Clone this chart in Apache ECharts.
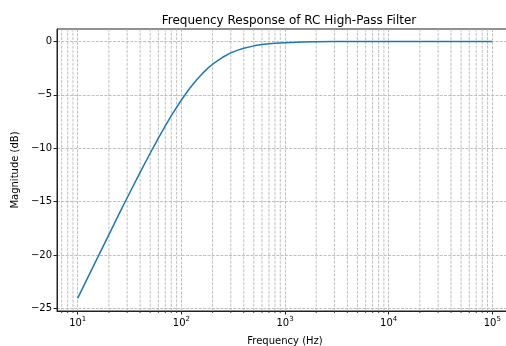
<!DOCTYPE html>
<html>
<head>
<meta charset="utf-8">
<script src="https://cdn.jsdelivr.net/npm/echarts@6/dist/echarts.min.js"></script>
<style>
	html, body { margin: 0; padding: 0; background: #fff; }
	#chart { width: 506px; height: 346px; }
</style>
</head>
<body>
<div id="chart"></div>
<script type="text/javascript">
	// frequency (Hz) and magnitude (dB)
	var freq = [10, 12, 15, 20, 25, 30, 40, 50, 60, 70, 80, 100, 120, 140, 160, 180, 200, 250, 300, 350, 400, 500, 600, 700, 800, 1000, 1500, 2000, 3000, 5000, 10000, 100000];
	var magDb = [-24.05, -22.47, -20.56, -18.09, -16.18, -14.64, -12.27, -10.47, -9.05, -7.90, -6.95, -5.48, -4.41, -3.61, -2.99, -2.50, -2.13, -1.48, -1.07, -0.81, -0.64, -0.41, -0.29, -0.21, -0.17, -0.11, -0.05, -0.03, -0.012, -0.004, -0.001, 0];
	// minor grid lines of the log axis
	var minorFreq = [7, 8, 9, 20, 30, 40, 50, 60, 70, 80, 90, 200, 300, 400, 500, 600, 700, 800, 900,
		2000, 3000, 4000, 5000, 6000, 7000, 8000, 9000, 20000, 30000, 40000, 50000, 60000, 70000, 80000, 90000];

	var xMin = Math.pow(10, 0.8), xMax = Math.pow(10, 5.2);
	var yMin = -25.25, yMax = 1.17;
	var font = 'DejaVu Sans';
	var gridDash = [3, 1.3];

	var chart = echarts.init(document.getElementById('chart'));

	var lineData = [];
	for (var i = 0; i < freq.length; i++) {
		lineData.push([freq[i], magDb[i]]);
	}
	var minorData = minorFreq.map(function(f) { return [f, yMin]; });

	var option = {
		animation: false,
		title: {
			text: 'Frequency Response of RC High-Pass Filter',
			left: 284,
			textAlign: 'center',
			top: 10,
			textStyle: { fontFamily: font, fontSize: 12, fontWeight: 'normal', color: '#000' }
		},
		grid: {
			left: 57,
			top: 29,
			right: -7,
			bottom: 35,
			outerBoundsMode: 'none',
			containLabel: false,
			show: true,
			borderColor: '#222',
			borderWidth: 1
		},
		xAxis: {
			type: 'log',
			logBase: 10,
			min: xMin,
			max: xMax,
			name: 'Frequency (Hz)',
			nameLocation: 'middle',
			nameGap: 25,
			nameTextStyle: { fontFamily: font, fontSize: 10, color: '#000' },
			axisLine: { show: true, onZero: false, lineStyle: { color: '#222', width: 1 } },
			axisTick: { show: true, length: 3.5, lineStyle: { color: '#222' } },
			axisLabel: {
				showMinLabel: false,
				showMaxLabel: false,
				margin: 5,
				formatter: function(v) {
					var e = Math.round(Math.log(v) / Math.LN10);
					return '{b|10}{s|' + e + '}';
				},
				rich: {
					b: { fontFamily: font, fontSize: 10, color: '#000' },
					s: { fontFamily: font, fontSize: 7, color: '#000', padding: [0, 0, 7, 0] }
				}
			},
			splitLine: { show: true, showMinLine: false, showMaxLine: false, lineStyle: { color: '#b0b0b0', width: 0.8, type: gridDash } }
		},
		yAxis: {
			type: 'value',
			min: yMin,
			max: yMax,
			splitNumber: 5,
			name: 'Magnitude (dB)',
			nameLocation: 'middle',
			nameRotate: 90,
			nameGap: 29,
			nameTextStyle: { fontFamily: font, fontSize: 10, color: '#000' },
			axisLine: { show: true, onZero: false, lineStyle: { color: '#222', width: 1 } },
			axisTick: { show: true, length: 3.5, lineStyle: { color: '#222' } },
			axisLabel: {
				showMinLabel: false,
				showMaxLabel: false,
				margin: 5,
				fontFamily: font,
				fontSize: 10,
				color: '#000',
				formatter: function(v) {
					return String(v).replace('-', '\u2212');
				}
			},
			splitLine: { show: true, showMinLine: false, showMaxLine: false, lineStyle: { color: '#b0b0b0', width: 0.8, type: gridDash } }
		},
		series: [{
			// minor grid lines and minor ticks
			type: 'custom',
			silent: true,
			clip: false,
			z: 1,
			data: minorData,
			renderItem: function(params, api) {
				var bottom = api.coord([api.value(0), yMin]);
				var top = api.coord([api.value(0), yMax]);
				return {
					type: 'group',
					children: [{
						type: 'line',
						shape: { x1: bottom[0], y1: bottom[1], x2: top[0], y2: top[1] },
						style: { stroke: '#b0b0b0', lineWidth: 0.8, lineDash: gridDash }
					}, {
						type: 'line',
						shape: { x1: bottom[0], y1: bottom[1], x2: bottom[0], y2: bottom[1] + 2 },
						style: { stroke: '#222', lineWidth: 0.8 }
					}]
				};
			}
		}, {
			name: 'Magnitude',
			type: 'line',
			data: lineData,
			showSymbol: false,
			z: 3,
			lineStyle: { color: '#1f77b4', width: 1.5 }
		}]
	};

	chart.setOption(option);
	window.onresize = chart.resize;
</script>
</body>
</html>
